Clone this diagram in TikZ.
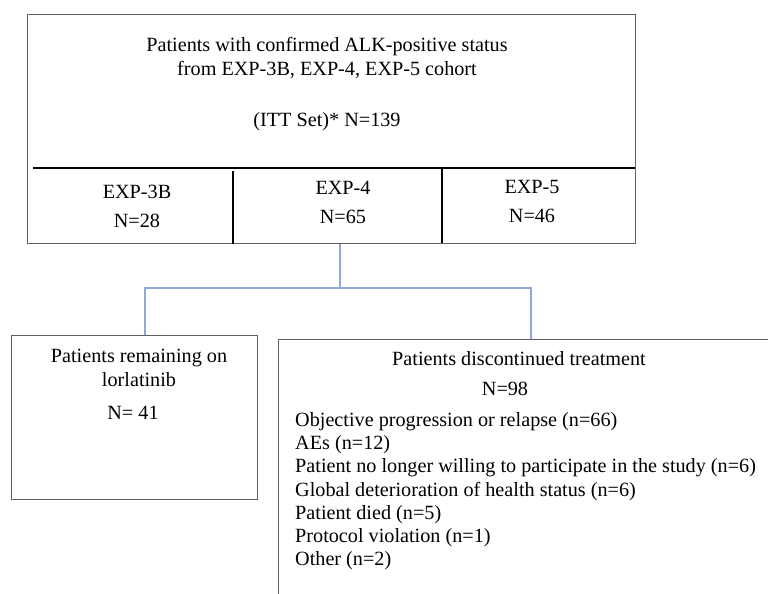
\documentclass[tikz,border=0pt]{standalone}
\usepackage{fontspec}
\setmainfont{Liberation Serif}
\usepackage{xcolor}
\usetikzlibrary{positioning}
\definecolor{boxgray}{RGB}{95,95,95}
\definecolor{linkblue}{RGB}{143,170,214}

\begin{document}
\begin{tikzpicture}[x=1pt,y=-1pt,font=\fontsize{20.2}{23.3}\selectfont,
  box/.style={draw=boxgray,line width=1.3pt,inner sep=0pt},
  cellline/.style={black,line width=1.3pt},
  link/.style={draw=linkblue,line width=1.6pt},
  lbl/.style={align=center,inner sep=0pt}]
\useasboundingbox (0,0) rectangle (768,594);
\clip (0,0) rectangle (768,594);
% ITT box with cohort cells
\node[box,anchor=north west,minimum width=608pt,minimum height=229pt] (itt) at (27,14) {};
\node[lbl] (ittlbl) at (327,58) {Patients with confirmed ALK-positive status\\from EXP-3B, EXP-4, EXP-5 cohort};
\node[lbl] (ittn) at (327,122) {(ITT Set)* N=139};
\draw[cellline] (33,168) -- (635,168);
\draw[cellline] (233,171) -- (233,244);
\draw[cellline] (442,169) -- (442,243);
\node[lbl] (exp3b) at (137,206) {EXP-3B\\[5.7pt]N=28};
\node[lbl] (exp4) at (343,202) {EXP-4\\[5.7pt]N=65};
\node[lbl] (exp5) at (532,201) {EXP-5\\[5.7pt]N=46};
% remaining on treatment
\node[box,anchor=north west,minimum width=246pt,minimum height=164pt] (remain) at (11,335) {};
\node[lbl] (remainlbl) at (139,368) {Patients remaining on\\lorlatinib};
\node[lbl] (remainn) at (133,413) {N= 41};
% discontinued (box runs off the page)
\node[box,anchor=north west,minimum width=520pt,minimum height=300pt] (discont) at (278,339) {};
\node[lbl] (discontlbl) at (519,359) {Patients discontinued treatment};
\node[lbl] (discontn) at (505,389) {N=98};
\foreach \why [count=\i] in {Objective progression or relapse (n=66),AEs (n=12),
    Patient no longer willing to participate in the study (n=6),
    Global deterioration of health status (n=6),Patient died (n=5),
    Protocol violation (n=1),Other (n=2)}{
  \node[anchor=west,inner sep=0pt] (why\i) at (295,{398.5+23.2*\i}) {\why};
}
% connectors
\coordinate (split) at (340,288);
\coordinate (dropl) at (145,288);
\coordinate (dropr) at (531,288);
\draw[link] (split |- itt.south) -- (split);
\draw[link] (dropl |- remain.north) -- (dropl) -- (dropr) -- (dropr |- discont.north);
\end{tikzpicture}
\end{document}
